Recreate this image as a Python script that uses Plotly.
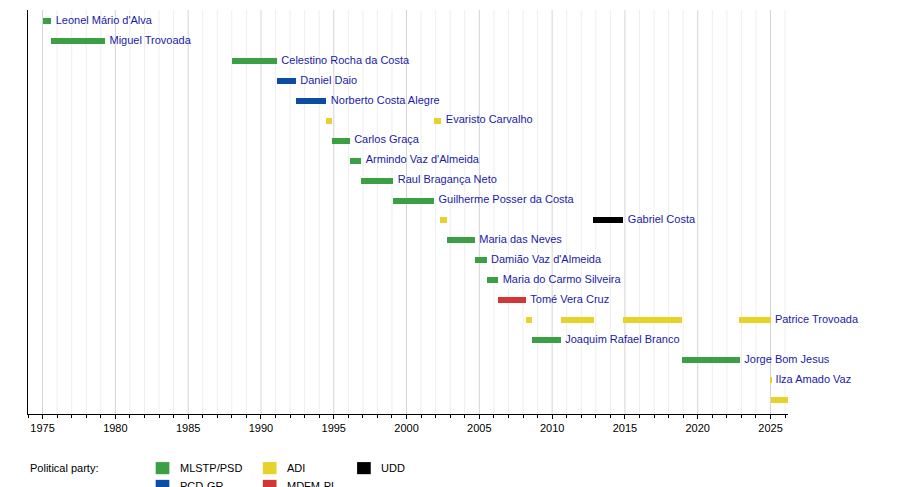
import plotly.graph_objects as go

# Prime ministers (one row each, top to bottom)
names = ["Leonel Mário d'Alva", "Miguel Trovoada", "Celestino Rocha da Costa", "Daniel Daio",
         "Norberto Costa Alegre", "Evaristo Carvalho", "Carlos Graça", "Armindo Vaz d'Almeida",
         "Raul Bragança Neto", "Guilherme Posser da Costa", "Gabriel Costa", "Maria das Neves",
         "Damião Vaz d'Almeida", "Maria do Carmo Silveira", "Tomé Vera Cruz", "Patrice Trovoada",
         "Joaquim Rafael Branco", "Jorge Bom Jesus", "Ilza Amado Vaz", "Américo Ramos"]

# Terms: row index, start, end, party
term_row = [0, 1, 2, 3, 4, 5, 5, 6, 7, 8, 9, 10, 10, 11, 12, 13, 14,
            15, 15, 15, 15, 16, 17, 18, 19]
term_start = [1975.0, 1975.6, 1988.0, 1991.1, 1992.4, 1994.5, 2001.9, 1994.9, 1996.1, 1996.9,
              1999.1, 2002.3, 2012.8, 2002.8, 2004.7, 2005.5, 2006.3,
              2008.2, 2010.6, 2014.9, 2022.8, 2008.6, 2018.9, 2025.0, 2025.0]
term_end = [1975.6, 1979.3, 1991.1, 1992.4, 1994.5, 1994.9, 2002.4, 1996.1, 1996.9, 1999.1,
            2001.9, 2002.8, 2014.9, 2004.7, 2005.5, 2006.3, 2008.2,
            2008.6, 2012.9, 2018.9, 2025.0, 2010.6, 2022.9, 2025.05, 2026.2]
term_party = ["MLSTP/PSD", "MLSTP/PSD", "MLSTP/PSD", "PCD-GR", "PCD-GR", "ADI", "ADI",
              "MLSTP/PSD", "MLSTP/PSD", "MLSTP/PSD", "MLSTP/PSD", "ADI", "UDD", "MLSTP/PSD",
              "MLSTP/PSD", "MLSTP/PSD", "MDFM-PL", "ADI", "ADI", "ADI", "ADI",
              "MLSTP/PSD", "MLSTP/PSD", "ADI", "ADI"]

party_names = ["MLSTP/PSD", "PCD-GR", "ADI", "MDFM-PL", "UDD"]
party_colors = ["#3aa043", "#0a4da2", "#e8d22a", "#d23636", "#000000"]
color_of = dict(zip(party_names, party_colors))

fig = go.Figure()

for p in party_names:
    idx = [i for i, tp in enumerate(term_party) if tp == p]
    fig.add_trace(go.Bar(
        y=[term_row[i] for i in idx],
        x=[term_end[i] - term_start[i] for i in idx],
        base=[term_start[i] for i in idx],
        orientation="h", width=0.3,
        marker=dict(color=color_of[p], line_width=0),
        showlegend=False, hoverinfo="skip"
    ))

# Name labels after each person's last term
label_x = []
for r in range(len(names)):
    label_x.append(max(term_end[i] for i in range(len(term_row)) if term_row[i] == r))
fig.add_trace(go.Scatter(
    x=[v + 0.3 for v in label_x], y=list(range(len(names))), mode="text",
    text=names, textposition="middle right", cliponaxis=False,
    textfont=dict(color="#1a1aaa", size=11), showlegend=False, hoverinfo="skip"
))

# year grid
shapes = []
for yr in range(1975, 2027):
    shapes.append(dict(type="line", xref="x", yref="paper", x0=yr, x1=yr, y0=0, y1=1,
                       line=dict(color="#d4d4d4" if yr % 5 == 0 else "#eeeeee", width=1),
                       layer="below"))

# legend drawn by hand
legend_items = [("MLSTP/PSD", 0.168, -0.134), ("PCD-GR", 0.168, -0.178),
                ("ADI", 0.309, -0.134), ("MDFM-PL", 0.309, -0.178), ("UDD", 0.433, -0.134)]
annotations = [dict(text="Political party:", xref="paper", yref="paper", x=0.0, y=-0.134,
                    xanchor="left", yanchor="middle", showarrow=False,
                    font=dict(size=11, color="black"))]
for p, lx, ly in legend_items:
    shapes.append(dict(type="rect", xref="paper", yref="paper", x0=lx, x1=lx + 0.018,
                       y0=ly - 0.015, y1=ly + 0.015, fillcolor=color_of[p], line_width=0))
    annotations.append(dict(text=p, xref="paper", yref="paper", x=lx + 0.029, y=ly,
                            xanchor="left", yanchor="middle", showarrow=False,
                            font=dict(size=11, color="black")))

fig.update_layout(
    width=900, height=487,
    margin=dict(l=20, r=120, t=2, b=81, autoexpand=False),
    plot_bgcolor="white", paper_bgcolor="white",
    font=dict(family="Liberation Sans, Arial", size=11, color="black"),
    bargap=0, barmode="overlay",
    shapes=shapes, annotations=annotations,
    xaxis=dict(range=[1974.0, 2026.2], tickvals=list(range(1975, 2030, 5)),
               showgrid=False, zeroline=False, showline=True, linecolor="black",
               ticks="outside", ticklen=4, tickcolor="black", automargin=False,
               minor=dict(ticks="outside", ticklen=3, dtick=1, tickcolor="black")),
    yaxis=dict(range=[len(names) - 0.3, -0.55], showticklabels=False, showgrid=False,
               zeroline=False, showline=True, linecolor="black", automargin=False),
)

fig.write_html("out.html")
